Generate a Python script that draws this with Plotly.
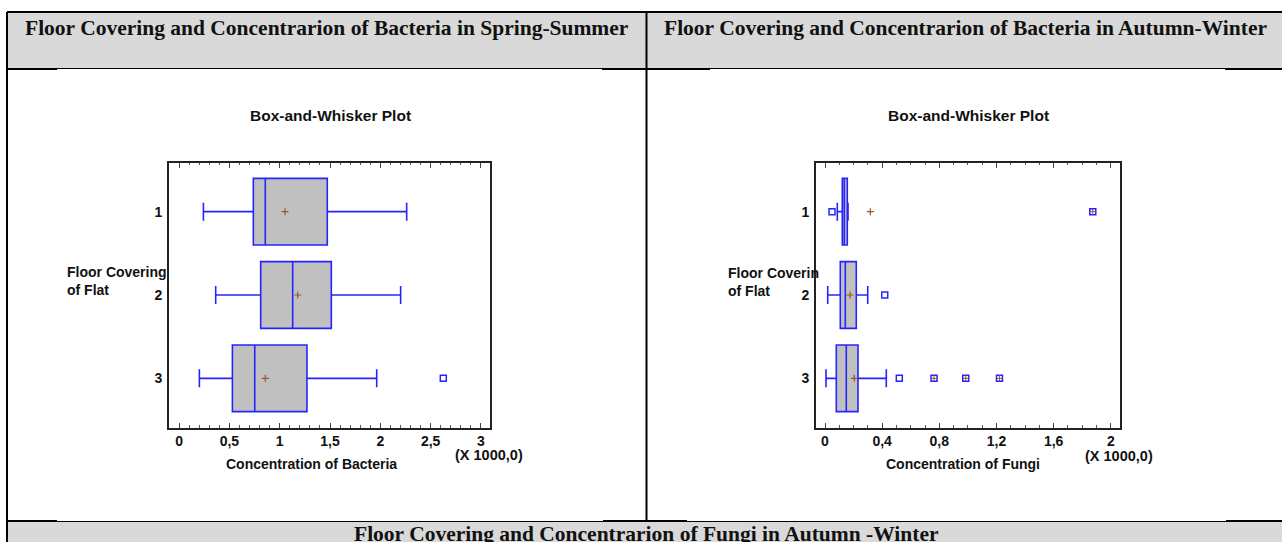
import plotly.graph_objects as go

W, H = 1282, 542

# ---- data (concentration, x 1000) ----
groups = [1, 2, 3]

bact_lower = [0.242, 0.364, 0.202]
bact_q1 = [0.738, 0.811, 0.530]
bact_median = [0.857, 1.129, 0.752]
bact_q3 = [1.473, 1.513, 1.271]
bact_upper = [2.262, 2.202, 1.964]
bact_mean = [1.053, 1.179, 0.857]
bact_out_group = [3]
bact_out_value = [2.626]

fungi_lower = [0.086, 0.019, 0.007]
fungi_q1 = [0.121, 0.107, 0.079]
fungi_median = [0.135, 0.142, 0.149]
fungi_q3 = [0.156, 0.219, 0.231]
fungi_upper = [0.161, 0.299, 0.429]
fungi_mean = [0.317, 0.175, 0.205]
fungi_out_group = [1, 2, 3]
fungi_out_value = [0.049, 0.418, 0.520]
fungi_far_group = [1, 3, 3, 3]
fungi_far_value = [1.874, 0.763, 0.985, 1.221]

headers = [
    "Floor Covering and Concentrarion of Bacteria in Spring-Summer",
    "Floor Covering and Concentrarion of Bacteria in Autumn-Winter",
    "Floor Covering and Concentrarion of Fungi in Autumn -Winter",
]

BOX_LINE = "#2424ff"
BOX_FILL = "#c0c0c0"
MEAN_COL = "#a0522d"
FRAME = "#222222"


def px(x):
    return x / W


def py(y):
    return 1 - y / H


fig = go.Figure()


def add_panel(xa, ya, lower, q1, med, q3, upper, mean,
              out_g, out_v, far_g=None, far_v=None):
    for i, g in enumerate(groups):
        fig.add_trace(go.Box(
            y=[g], q1=[q1[i]], median=[med[i]], q3=[q3[i]],
            lowerfence=[lower[i]], upperfence=[upper[i]],
            orientation="h", width=0.8, whiskerwidth=0.27,
            fillcolor=BOX_FILL, line=dict(color=BOX_LINE, width=1.6),
            boxpoints=False, xaxis=xa, yaxis=ya, showlegend=False,
            hoverinfo="skip"))
    fig.add_trace(go.Scatter(
        x=out_v, y=out_g, mode="markers", xaxis=xa, yaxis=ya,
        marker=dict(symbol="square-open", size=6,
                    line=dict(color=BOX_LINE, width=1.5), color=BOX_LINE),
        showlegend=False, hoverinfo="skip"))
    if far_v:
        fig.add_trace(go.Scatter(
            x=far_v, y=far_g, mode="markers", xaxis=xa, yaxis=ya,
            marker=dict(symbol="square-open", size=6,
                        line=dict(color=BOX_LINE, width=1.5), color=BOX_LINE),
            showlegend=False, hoverinfo="skip"))
        fig.add_trace(go.Scatter(
            x=far_v, y=far_g, mode="markers", xaxis=xa, yaxis=ya,
            marker=dict(symbol="cross-thin-open", size=4,
                        line=dict(color=MEAN_COL, width=1), color=MEAN_COL),
            showlegend=False, hoverinfo="skip"))
    fig.add_trace(go.Scatter(
        x=mean, y=groups, mode="markers", xaxis=xa, yaxis=ya,
        marker=dict(symbol="cross-thin-open", size=5,
                    line=dict(color=MEAN_COL, width=1.2), color=MEAN_COL),
        showlegend=False, hoverinfo="skip"))


add_panel("x", "y", bact_lower, bact_q1, bact_median, bact_q3, bact_upper,
          bact_mean, bact_out_group, bact_out_value)
add_panel("x2", "y2", fungi_lower, fungi_q1, fungi_median, fungi_q3,
          fungi_upper, fungi_mean, fungi_out_group, fungi_out_value,
          fungi_far_group, fungi_far_value)

tickfont = dict(family="Liberation Sans", size=14, color="#111", weight="bold")


def xaxis_cfg(domain, rng, dtick):
    return dict(
        domain=domain, range=rng, dtick=dtick, tick0=0, tickmode="linear",
        ticks="inside", ticklen=5, tickwidth=1, tickcolor="#444",
        minor=dict(dtick=0.1, tick0=0, ticks="inside", ticklen=2.5,
                   tickcolor="#555", tickwidth=1),
        showline=True, linecolor=FRAME, linewidth=2, mirror="ticks",
        showgrid=False, zeroline=False, tickfont=tickfont, fixedrange=True)


def yaxis_cfg(anchor):
    return dict(
        domain=[py(427.5), py(162.5)], range=[3.59, 0.41],
        tickmode="array", tickvals=groups, ticktext=[str(g) for g in groups],
        ticks="", showline=True, linecolor=FRAME, linewidth=2, mirror=True,
        showgrid=False, zeroline=False, anchor=anchor,
        tickfont=dict(family="Liberation Sans", size=14, color="#111",
                      weight="bold"),
        ticklabelstandoff=2, fixedrange=True)


fig.update_layout(
    width=W, height=H, margin=dict(l=0, r=0, t=0, b=0),
    paper_bgcolor="white", plot_bgcolor="white", separators=",.",
    xaxis=xaxis_cfg([px(169), px(490)], [-0.1, 3.09], 0.5) | dict(anchor="y"),
    yaxis=yaxis_cfg("x"),
    xaxis2=xaxis_cfg([px(816), px(1119.5)], [-0.063, 2.061], 0.4)
    | dict(anchor="y2"),
    yaxis2=yaxis_cfg("x2"),
)

# ---- table frame (paper coordinates) ----
P = dict(xref="paper", yref="paper")
shapes = [
    dict(type="rect", x0=px(7), x1=1, y0=py(12), y1=py(68),
         fillcolor="#d9d9d9", line_width=0, layer="below", **P),
    dict(type="rect", x0=px(7), x1=1, y0=py(522), y1=0,
         fillcolor="#d9d9d9", line_width=0, layer="below", **P),
]
hlines = [(12, 7, 1282, 2), (68.5, 7, 1282, 1), (521.5, 7, 1282, 1)]
for y, a, b, w in hlines:
    shapes.append(dict(type="line", x0=px(a), x1=px(b), y0=py(y), y1=py(y),
                       line=dict(color="black", width=w), **P))
for y, segs in [(69, [(7, 57), (602, 710), (1225, 1282)]),
                (521, [(7, 57), (603, 687), (1226, 1282)])]:
    for a, b in segs:
        shapes.append(dict(type="line", x0=px(a), x1=px(b), y0=py(y),
                           y1=py(y), line=dict(color="black", width=2), **P))
shapes.append(dict(type="line", x0=px(7), x1=px(7), y0=py(12), y1=0,
                   line=dict(color="black", width=2), **P))
shapes.append(dict(type="line", x0=px(646.5), x1=px(646.5), y0=py(12),
                   y1=py(521), line=dict(color="black", width=2), **P))
fig.update_layout(shapes=shapes)

serif = dict(family="Liberation Serif", size=21.5, color="#111", weight="bold")
sans = dict(family="Liberation Sans", size=14, color="#111", weight="bold")


def note(text, x, y, font, xanchor="center", align="center"):
    fig.add_annotation(text=text, x=px(x), y=py(y), xref="paper",
                       yref="paper", showarrow=False, font=font,
                       xanchor=xanchor, yanchor="middle", align=align)


note(headers[0], 327, 28, serif)
note(headers[1], 965, 28, serif)
note(headers[2], 646, 534, serif)

note("Box-and-Whisker Plot", 330, 115, sans | dict(size=15.5))
note("Box-and-Whisker Plot", 968, 115, sans | dict(size=15.5))
note("Concentration of Bacteria", 311, 464, sans)
note("Concentration of Fungi", 963, 464, sans)
note("(X 1000,0)", 489, 455, sans | dict(size=14.5))
note("(X 1000,0)", 1119, 456, sans | dict(size=14.5))
note("Floor Covering<br>of Flat", 65, 281, sans, xanchor="left", align="left")
note("Floor Coverin<br>of Flat", 726, 282, sans, xanchor="left", align="left")

fig.write_html("out.html")
